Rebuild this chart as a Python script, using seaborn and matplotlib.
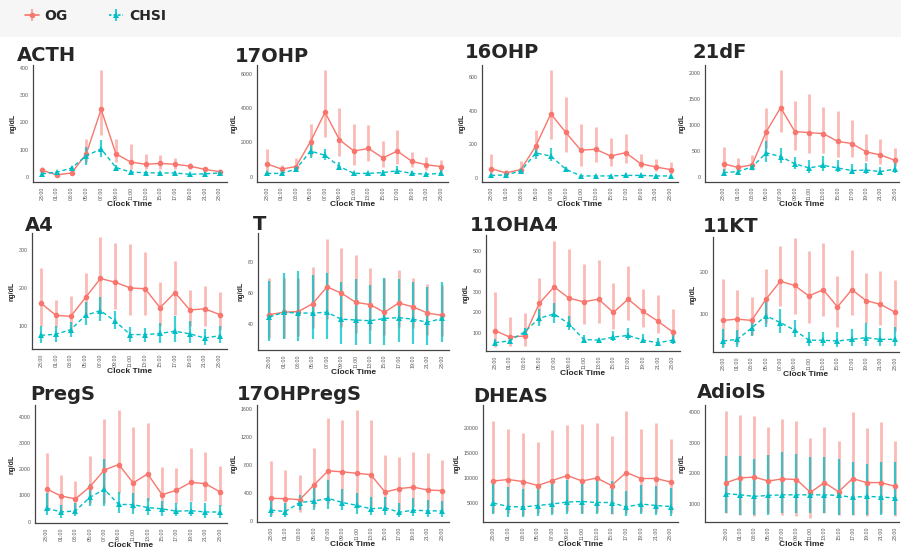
import matplotlib
matplotlib.use("Agg")
import matplotlib.pyplot as plt
from matplotlib.lines import Line2D
from matplotlib.patches import Rectangle
import seaborn as sns
import pandas as pd

# clock times (first and last are both 23:00)
times = ["23:00", "01:00", "03:00", "05:00", "07:00", "09:00", "11:00",
         "13:00", "15:00", "17:00", "19:00", "21:00", "23:00"]
groups = ["OG", "CHSI"]
colors = {"OG": "#F8766D", "CHSI": "#00BFC4"}

# ---- values (mean, lower, upper) ----
acth_og = [25, 8, 15, 85, 248, 85, 55, 47, 50, 47, 40, 28, 20]
acth_og_lo = [15, 5, 10, 55, 155, 55, 30, 30, 30, 30, 30, 20, 15]
acth_og_hi = [38, 12, 20, 140, 390, 140, 120, 85, 80, 70, 50, 35, 30]
acth_ch = [12, 18, 33, 78, 103, 35, 18, 16, 15, 15, 10, 12, 15]
acth_ch_lo = [8, 12, 25, 45, 75, 28, 12, 10, 10, 10, 6, 8, 10]
acth_ch_hi = [16, 22, 40, 110, 135, 45, 25, 22, 20, 22, 15, 18, 20]

ohp17_og = [750, 450, 600, 2050, 3750, 2150, 1500, 1650, 1100, 1500, 900, 700, 600]
ohp17_og_lo = [250, 250, 350, 1200, 2300, 1200, 700, 900, 600, 750, 600, 400, 300]
ohp17_og_hi = [1600, 700, 1100, 3050, 6200, 4000, 3050, 3000, 2100, 2700, 1450, 1150, 1000]
ohp17_ch = [200, 200, 450, 1500, 1250, 600, 200, 200, 250, 350, 200, 150, 200]
ohp17_ch_lo = [100, 100, 300, 1100, 1000, 400, 150, 150, 150, 200, 100, 100, 100]
ohp17_ch_hi = [300, 300, 650, 1900, 1600, 850, 300, 300, 400, 650, 350, 250, 400]

ohp16_og = [55, 30, 50, 190, 380, 270, 165, 170, 130, 150, 85, 65, 50]
ohp16_og_lo = [20, 15, 30, 130, 230, 155, 70, 95, 70, 90, 60, 40, 25]
ohp16_og_hi = [140, 50, 100, 285, 640, 480, 320, 305, 235, 260, 140, 110, 95]
ohp16_ch = [15, 18, 42, 148, 130, 52, 12, 12, 12, 15, 15, 12, 12]
ohp16_ch_lo = [8, 10, 30, 110, 100, 40, 5, 5, 5, 5, 8, 5, 5]
ohp16_ch_hi = [25, 30, 55, 180, 175, 65, 20, 18, 20, 30, 25, 18, 20]

df21_og = [250, 180, 230, 870, 1330, 870, 850, 830, 680, 640, 480, 420, 320]
df21_og_lo = [120, 100, 130, 550, 870, 520, 450, 450, 380, 380, 300, 250, 200]
df21_og_hi = [580, 370, 420, 1330, 2050, 1450, 1600, 1350, 1270, 1090, 820, 720, 560]
df21_ch = [80, 100, 190, 460, 390, 250, 170, 220, 170, 120, 130, 100, 150]
df21_ch_lo = [30, 50, 130, 280, 260, 150, 80, 120, 90, 60, 60, 50, 80]
df21_ch_hi = [150, 180, 260, 680, 560, 380, 320, 400, 320, 250, 270, 180, 280]

a4_og = [160, 128, 125, 175, 225, 215, 200, 198, 148, 188, 142, 145, 130]
a4_og_lo = [100, 98, 90, 130, 140, 145, 128, 130, 100, 130, 100, 100, 90]
a4_og_hi = [252, 168, 180, 240, 335, 318, 315, 295, 215, 272, 195, 205, 190]
a4_ch = [75, 78, 90, 128, 140, 112, 77, 77, 80, 86, 79, 68, 74]
a4_ch_lo = [55, 58, 70, 103, 112, 92, 58, 58, 55, 58, 55, 50, 55]
a4_ch_hi = [100, 100, 110, 163, 175, 140, 97, 95, 108, 125, 112, 92, 100]

t_og = [46, 47.5, 48, 53, 64, 60, 54, 52.5, 47.5, 53.5, 51, 47, 45.5]
t_og_lo = [31, 31, 32, 37, 43, 38, 34, 36, 33, 38, 37, 33, 32]
t_og_hi = [70, 70, 70, 77, 95, 89, 85, 76, 70, 75, 70, 66, 65]
t_ch = [44.5, 47.5, 47, 47, 47.5, 43, 42.5, 42, 43.5, 44, 43, 41, 43.5]
t_ch_lo = [29, 30, 29, 30, 30, 27, 26, 27, 26, 28, 27, 26, 28]
t_ch_hi = [68, 73, 74, 72, 73, 67, 69, 65, 70, 69, 67, 64, 67]

ohaa_og = [112, 80, 85, 245, 325, 270, 252, 265, 200, 265, 205, 158, 105]
ohaa_og_lo = [30, 35, 35, 155, 200, 130, 145, 150, 120, 165, 130, 100, 50]
ohaa_og_hi = [300, 180, 195, 370, 550, 510, 435, 455, 345, 425, 315, 285, 215]
ohaa_ch = [52, 62, 105, 172, 193, 145, 68, 65, 80, 88, 65, 52, 65]
ohaa_ch_lo = [38, 45, 85, 135, 150, 115, 52, 55, 60, 65, 50, 35, 45]
ohaa_ch_hi = [70, 75, 125, 215, 245, 185, 90, 75, 110, 125, 95, 75, 90]

kt_og = [85, 88, 85, 135, 178, 168, 143, 158, 117, 158, 132, 123, 105]
kt_og_lo = [25, 30, 50, 80, 120, 100, 80, 95, 70, 97, 80, 75, 60]
kt_og_hi = [183, 157, 140, 207, 262, 280, 250, 268, 190, 253, 197, 202, 180]
kt_ch = [36, 40, 67, 96, 80, 62, 38, 38, 36, 40, 44, 40, 40]
kt_ch_lo = [20, 22, 48, 70, 55, 45, 25, 25, 22, 25, 25, 25, 25]
kt_ch_hi = [65, 62, 85, 130, 112, 85, 58, 58, 58, 65, 80, 67, 70]

pregs_og = [1250, 980, 870, 1330, 1970, 2180, 1480, 1820, 1030, 1200, 1500, 1450, 1140]
pregs_og_lo = [550, 400, 300, 700, 700, 1100, 500, 800, 400, 700, 800, 800, 600]
pregs_og_hi = [2620, 1780, 1560, 2490, 3920, 4250, 3620, 3750, 2070, 2030, 2820, 2660, 2130]
pregs_ch = [520, 370, 410, 930, 1230, 660, 650, 540, 490, 400, 420, 370, 370]
pregs_ch_lo = [250, 150, 200, 600, 600, 350, 300, 250, 200, 200, 200, 150, 150]
pregs_ch_hi = [1100, 650, 720, 1450, 2380, 1150, 1100, 900, 800, 700, 750, 700, 650]

ohpregs_og = [320, 315, 300, 510, 715, 700, 680, 660, 410, 460, 480, 440, 430]
ohpregs_og_lo = [80, 80, 130, 200, 250, 250, 200, 200, 150, 150, 200, 180, 150]
ohpregs_og_hi = [850, 720, 660, 1040, 1480, 1440, 1590, 1450, 940, 910, 990, 970, 870]
ohpregs_ch = [150, 130, 260, 280, 320, 260, 220, 170, 185, 120, 150, 140, 140]
ohpregs_ch_lo = [50, 50, 150, 150, 160, 150, 100, 80, 80, 50, 60, 50, 50]
ohpregs_ch_hi = [330, 250, 370, 470, 590, 460, 400, 340, 340, 250, 330, 290, 280]

dheas_og = [9400, 9700, 9300, 8500, 9500, 10500, 9400, 10000, 8500, 11100, 9900, 9900, 9200]
dheas_og_lo = [3000, 3000, 2700, 3000, 3000, 3500, 3000, 3300, 2800, 3000, 3200, 3300, 3000]
dheas_og_hi = [21500, 19800, 19000, 17200, 19700, 20600, 20800, 21000, 18500, 23500, 19800, 21000, 17800]
dheas_ch = [5000, 4300, 4200, 4500, 4800, 5200, 5300, 5100, 5100, 4200, 4800, 4500, 4300]
dheas_ch_lo = [2800, 2300, 2200, 2400, 2600, 2800, 2800, 2800, 2800, 2400, 2800, 2600, 2400]
dheas_ch_hi = [9000, 8200, 7800, 8100, 9200, 9700, 9600, 9700, 9400, 7400, 8700, 8500, 8000]

adiols_og = [1700, 1850, 1880, 1750, 1820, 1800, 1380, 1700, 1400, 1830, 1700, 1700, 1580]
adiols_og_lo = [700, 650, 600, 700, 650, 600, 550, 700, 650, 650, 600, 700, 600]
adiols_og_hi = [4050, 3900, 3870, 3520, 3760, 3710, 3150, 3520, 3050, 4010, 3480, 3670, 3050]
adiols_ch = [1340, 1300, 1250, 1280, 1300, 1300, 1300, 1300, 1280, 1220, 1250, 1230, 1200]
adiols_ch_lo = [700, 650, 650, 650, 700, 700, 700, 700, 650, 650, 650, 650, 650]
adiols_ch_hi = [2560, 2560, 2470, 2590, 2700, 2620, 2530, 2530, 2460, 2370, 2320, 2370, 2370]

# ---- panel layout: name, data, y-limits, y-ticks, axes box in px (left, top, right, bottom),
#      left x-limit, right x-limit, title position in px ----
panels = [
    ("ACTH", (acth_og, acth_og_lo, acth_og_hi, acth_ch, acth_ch_lo, acth_ch_hi),
     (-18, 410), [0, 100, 200, 300, 400], (33, 65, 227, 182), -0.6, 12.5, (17, 55)),
    ("17OHP", (ohp17_og, ohp17_og_lo, ohp17_og_hi, ohp17_ch, ohp17_ch_lo, ohp17_ch_hi),
     (-300, 6500), [0, 2000, 4000, 6000], (257, 65, 448, 182), -0.7, 12.5, (235, 57)),
    ("16OHP", (ohp16_og, ohp16_og_lo, ohp16_og_hi, ohp16_ch, ohp16_ch_lo, ohp16_ch_hi),
     (-24, 670), [0, 200, 400, 600], (482, 65, 678, 182), -0.6, 12.5, (465, 53)),
    ("21dF", (df21_og, df21_og_lo, df21_og_hi, df21_ch, df21_ch_lo, df21_ch_hi),
     (-100, 2150), [0, 500, 1000, 1500, 2000], (705, 65, 899, 182), -1.3, 12.3, (693, 53)),
    ("A4", (a4_og, a4_og_lo, a4_og_hi, a4_ch, a4_ch_lo, a4_ch_hi),
     (39, 345), [100, 200, 300], (32, 233, 227, 349), -0.6, 12.5, (25, 226)),
    ("T", (t_og, t_og_lo, t_og_hi, t_ch, t_ch_lo, t_ch_hi),
     (23, 99), [40, 60, 80], (258, 233, 449, 350), -0.8, 12.5, (253, 225)),
    ("11OHA4", (ohaa_og, ohaa_og_lo, ohaa_og_hi, ohaa_ch, ohaa_ch_lo, ohaa_ch_hi),
     (12, 578), [100, 200, 300, 400, 500], (486, 235, 680, 351), -0.6, 12.5, (470, 226)),
    ("11KT", (kt_og, kt_og_lo, kt_og_hi, kt_ch, kt_ch_lo, kt_ch_hi),
     (10, 283), [100, 200], (713, 237, 899, 352), -0.7, 12.3, (703, 227)),
    ("PregS", (pregs_og, pregs_og_lo, pregs_og_hi, pregs_ch, pregs_ch_lo, pregs_ch_hi),
     (-50, 4450), [0, 1000, 2000, 3000, 4000], (35, 405, 227, 523), -0.8, 12.5, (30, 395)),
    ("17OHPregS", (ohpregs_og, ohpregs_og_lo, ohpregs_og_hi, ohpregs_ch, ohpregs_ch_lo, ohpregs_ch_hi),
     (-20, 1660), [0, 400, 800, 1200, 1600], (257, 405, 449, 522), -1.0, 12.5, (237, 395)),
    ("DHEAS", (dheas_og, dheas_og_lo, dheas_og_hi, dheas_ch, dheas_ch_lo, dheas_ch_hi),
     (1200, 24600), [5000, 10000, 15000, 20000], (483, 405, 678, 522), -0.7, 12.5, (473, 396)),
    ("AdiolS", (adiols_og, adiols_og_lo, adiols_og_hi, adiols_ch, adiols_ch_lo, adiols_ch_hi),
     (414, 4230), [1000, 2000, 3000, 4000], (705, 405, 899, 522), -1.5, 12.3, (697, 393)),
]

W, H = 901, 547

sns.set_style("white")
plt.rcParams['font.family'] = ['Liberation Sans', 'DejaVu Sans']

fig = plt.figure(figsize=(W / 100, H / 100), dpi=100)
fig.patch.set_facecolor("white")
# faint grey band behind the legend
fig.add_artist(Rectangle((0, 1 - 37 / H), 1, 37 / H, transform=fig.transFigure,
                         facecolor="#f6f6f6", edgecolor="none", zorder=0))


def draw_panel(name, vals, ylim, yticks, box, xmin, xmax, title_xy):
    og, og_lo, og_hi, ch, ch_lo, ch_hi = vals
    l, t, r, b = box
    ax = fig.add_axes([l / W, 1 - b / H, (r - l) / W, (b - t) / H])
    ax.patch.set_alpha(0)
    pos = list(range(len(times)))
    df = pd.DataFrame({
        "pos": pos * 2,
        "value": og + ch,
        "group": ["OG"] * len(pos) + ["CHSI"] * len(pos),
    })
    # error bars first so lines sit on top
    ax.vlines(pos, og_lo, og_hi, color=colors["OG"], alpha=0.5, lw=2.0, zorder=1)
    ax.vlines(pos, ch_lo, ch_hi, color=colors["CHSI"], alpha=0.75, lw=1.6, zorder=2)
    sns.lineplot(data=df, x="pos", y="value", hue="group", style="group",
                 hue_order=groups, style_order=groups, palette=colors,
                 markers={"OG": "o", "CHSI": "^"},
                 dashes={"OG": "", "CHSI": (3, 2)},
                 markersize=4, linewidth=1.0, markeredgewidth=0,
                 legend=False, ax=ax, zorder=3)
    ax.set_xlim(xmin, xmax)
    ax.set_ylim(*ylim)
    ax.set_xticks(pos)
    ax.set_xticklabels(times, rotation=90, fontsize=3.8, color="#555555")
    ax.set_yticks(yticks)
    ax.set_yticklabels([str(v) for v in yticks], fontsize=3.8, color="#555555")
    ax.tick_params(length=2, width=0.5, color="#555555", pad=1.2)
    for side in ["top", "right"]:
        ax.spines[side].set_visible(False)
    for side in ["left", "bottom"]:
        ax.spines[side].set_color("#444444")
        ax.spines[side].set_linewidth(0.9)
    ax.set_xlabel("Clock Time", fontsize=6, fontweight="bold", labelpad=0.5)
    ax.set_ylabel("ng/dL", fontsize=5, fontweight="bold", labelpad=2)
    fig.text(title_xy[0] / W, 1 - title_xy[1] / H, name, fontsize=14,
             fontweight="bold", ha="left", va="center", family="DejaVu Sans")


for p in panels:
    draw_panel(*p)

# legend at the top left: point + line + vertical bar, like a pointrange key
og_key = (Line2D([], [], color=colors["OG"], alpha=0.6, marker="|", markersize=9, lw=0,
                 markeredgewidth=1.5),
          Line2D([], [], color=colors["OG"], marker="o", markersize=4, lw=1.2, markeredgewidth=0))
ch_key = (Line2D([], [], color=colors["CHSI"], alpha=0.8, marker="|", markersize=9, lw=0,
                 markeredgewidth=1.5),
          Line2D([], [], color=colors["CHSI"], marker="^", markersize=5, lw=1.2,
                 ls=(0, (1.5, 1.2)), markeredgewidth=0))
fig.legend([og_key, ch_key], groups, loc="center left", bbox_to_anchor=(18 / W, 1 - 16 / H),
           ncol=2, frameon=False, handlelength=1.0, handletextpad=0.4, columnspacing=3.0,
           borderpad=0, prop={"weight": "bold", "size": 10, "family": "DejaVu Sans"})

fig.savefig("out.png", dpi=100)
